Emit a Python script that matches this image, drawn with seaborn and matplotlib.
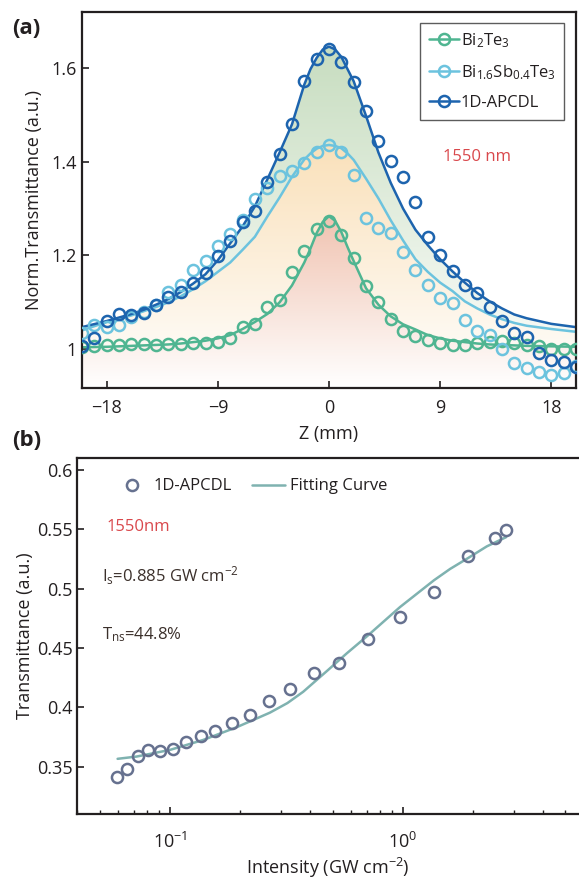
import matplotlib as mpl
mpl.use('Agg')
import matplotlib.pyplot as plt
import numpy as np
import pandas as pd
import seaborn as sns
from matplotlib.lines import Line2D
from matplotlib.ticker import FixedLocator, NullFormatter, FuncFormatter

# ---------------- data: panel (a), open-aperture Z-scan ----------------
z_pts = list(range(-20, 21))
bi2te3_pts = [1.005, 1.007, 1.009, 1.009, 1.011, 1.011, 1.009, 1.011, 1.012, 1.013,
              1.014, 1.016, 1.023, 1.048, 1.053, 1.090, 1.104, 1.164, 1.209, 1.257,
              1.273, 1.243, 1.195, 1.135, 1.101, 1.065, 1.039, 1.028, 1.020, 1.013,
              1.009, 1.009, 1.013, 1.016, 1.018, 1.013, 1.009, 1.007, 1.001, 1.000, 1.001]
bisbte_pts = [1.035, 1.052, 1.048, 1.052, 1.068, 1.079, 1.095, 1.121, 1.136, 1.169,
              1.189, 1.221, 1.245, 1.275, 1.321, 1.345, 1.369, 1.381, 1.397, 1.422,
              1.436, 1.420, 1.371, 1.281, 1.259, 1.248, 1.207, 1.170, 1.136, 1.109,
              1.099, 1.062, 1.038, 1.030, 1.001, 0.970, 0.959, 0.952, 0.945, 0.950, 0.964]
apcdl_pts = [1.007, 1.023, 1.060, 1.074, 1.072, 1.078, 1.094, 1.111, 1.122, 1.142,
             1.163, 1.198, 1.230, 1.271, 1.296, 1.358, 1.416, 1.480, 1.573, 1.620,
             1.640, 1.613, 1.570, 1.509, 1.444, 1.402, 1.368, 1.314, 1.240, 1.202,
             1.167, 1.137, 1.119, 1.089, 1.060, 1.034, 1.025, 0.991, 0.977, 0.972, 0.961]

z_fit = [-20, -18, -16, -15, -14, -13, -12, -11, -10, -9, -8, -7, -6, -5, -4, -3, -2,
         -1.5, -1, -0.5, 0, 0.5, 1, 1.5, 2, 3, 4, 5, 6, 7, 8, 9, 10, 11, 12, 13, 14,
         15, 16, 18, 20]
bi2te3_fit = [1.004, 1.005, 1.007, 1.008, 1.009, 1.010, 1.012, 1.015, 1.018, 1.023,
              1.030, 1.043, 1.058, 1.075, 1.100, 1.136, 1.185, 1.215, 1.248, 1.272,
              1.284, 1.274, 1.250, 1.218, 1.188, 1.130, 1.095, 1.070, 1.053, 1.042,
              1.030, 1.023, 1.018, 1.015, 1.012, 1.010, 1.009, 1.008, 1.007, 1.006, 1.005]
bisbte_fit = [1.040, 1.058, 1.072, 1.081, 1.090, 1.100, 1.113, 1.128, 1.145, 1.165,
              1.185, 1.212, 1.240, 1.283, 1.324, 1.368, 1.405, 1.418, 1.428, 1.434,
              1.436, 1.434, 1.429, 1.418, 1.404, 1.364, 1.322, 1.275, 1.232, 1.192,
              1.165, 1.142, 1.124, 1.102, 1.087, 1.074, 1.064, 1.056, 1.050, 1.043, 1.037]
apcdl_fit = [1.047, 1.060, 1.075, 1.084, 1.095, 1.107, 1.122, 1.140, 1.160, 1.190,
             1.226, 1.262, 1.305, 1.362, 1.420, 1.480, 1.565, 1.598, 1.622, 1.640,
             1.646, 1.640, 1.624, 1.598, 1.572, 1.498, 1.420, 1.355, 1.300, 1.255,
             1.222, 1.192, 1.166, 1.142, 1.120, 1.102, 1.087, 1.074, 1.066, 1.054, 1.047]

# ---------------- data: panel (b), saturable absorption ----------------
intensity = [0.059, 0.0652, 0.0726, 0.0807, 0.0906, 0.1027, 0.1172, 0.1355, 0.157,
             0.1853, 0.2208, 0.2673, 0.328, 0.416, 0.535, 0.712, 0.977, 1.365, 1.905,
             2.497, 2.786]
transmit = [0.3416, 0.3478, 0.3592, 0.364, 0.3632, 0.3649, 0.3705, 0.3758, 0.3803,
            0.387, 0.3934, 0.405, 0.415, 0.429, 0.4369, 0.4573, 0.476, 0.497, 0.5273,
            0.5428, 0.5495]
int_fit = [0.0596, 0.0719, 0.1, 0.139, 0.1935, 0.269, 0.32, 0.374, 0.478, 0.575, 0.712,
           0.975, 1.365, 1.6, 1.905, 2.3, 2.786]
trans_fit = [0.3565, 0.3584, 0.364, 0.3724, 0.3831, 0.3954, 0.4035, 0.413, 0.4313, 0.4453,
             0.4607, 0.4844, 0.507, 0.5165, 0.5255, 0.5355, 0.5433]

labels_a = ['Bi$_2$Te$_3$', 'Bi$_{1.6}$Sb$_{0.4}$Te$_3$', '1D-APCDL']
colors_a = ['#4fb591', '#6cc3de', '#1d64ae']
fills_a = [(0.94, 0.74, 0.66), (0.98, 0.87, 0.70), (0.77, 0.86, 0.74)]

sns.set_theme(style='ticks')
plt.rcParams['font.family'] = ['Open Sans', 'DejaVu Sans']
plt.rcParams['mathtext.default'] = 'regular'
plt.rcParams['text.color'] = '#231f20'
plt.rcParams['axes.labelcolor'] = '#231f20'
plt.rcParams['xtick.color'] = '#231f20'
plt.rcParams['ytick.color'] = '#231f20'

fig = plt.figure(figsize=(5.79, 8.85), dpi=100)
ax = fig.add_axes([82 / 579, 1 - 388 / 885, 494 / 579, 376 / 885])
bx = fig.add_axes([77.3 / 579, 1 - 814 / 885, 1 - 77.3 / 579, 356 / 885])

YBOT, YTOP = 0.917, 1.72


def gradient_fill(ax, z, lo, hi, rgb, amax):
    poly = ax.fill_between(z, lo, hi, facecolor='none', edgecolor='none')
    n = 256
    img = np.zeros((n, 1, 4))
    img[..., :3] = rgb
    img[:, 0, 3] = np.linspace(0, amax, n)
    im = ax.imshow(img, extent=[min(z), max(z), YBOT, max(hi)], origin='lower',
                   aspect='auto', zorder=0.5, interpolation='bilinear')
    im.set_clip_path(poly.get_paths()[0], transform=ax.transData)


zf = np.array(z_fit)
gradient_fill(ax, zf, bisbte_fit, apcdl_fit, fills_a[2], 0.95)
gradient_fill(ax, zf, bi2te3_fit, bisbte_fit, fills_a[1], 0.9)
gradient_fill(ax, zf, [YBOT] * len(z_fit), bi2te3_fit, fills_a[0], 0.9)

fits = [bi2te3_fit, bisbte_fit, apcdl_fit]
pts = [bi2te3_pts, bisbte_pts, apcdl_pts]
for i in range(3):
    df_fit = pd.DataFrame({'z': z_fit, 't': fits[i]})
    df_pts = pd.DataFrame({'z': z_pts, 't': pts[i]})
    sns.lineplot(data=df_fit, x='z', y='t', ax=ax, color=colors_a[i], lw=1.8,
                 estimator=None, sort=False, zorder=2)
    sns.lineplot(data=df_pts, x='z', y='t', ax=ax, color=colors_a[i], linestyle='none',
                 marker='o', markersize=8, markerfacecolor='none',
                 markeredgecolor=colors_a[i], markeredgewidth=1.8,
                 estimator=None, sort=False, zorder=3)

ax.set_xlim(-20, 20)
ax.set_ylim(YBOT, YTOP)
ax.xaxis.set_major_locator(FixedLocator([-18, -9, 0, 9, 18]))
ax.yaxis.set_major_locator(FixedLocator([1.0, 1.2, 1.4, 1.6]))
ax.yaxis.set_major_formatter(FuncFormatter(lambda v, p: '{:g}'.format(round(v, 2))))
ax.set_xlabel('Z (mm)', fontsize=13, labelpad=6)
ax.set_ylabel('Norm.Transmittance (a.u.)', fontsize=13, labelpad=6)
ax.tick_params(direction='in', length=5, width=1.2, labelsize=13, top=False, right=False)
ax.tick_params(axis='x', pad=8)
for s in ax.spines.values():
    s.set_linewidth(1.6)
    s.set_color('#231f20')

handles = [Line2D([], [], color=c, lw=1.8, marker='o', markersize=8,
                  markerfacecolor='none', markeredgewidth=1.8) for c in colors_a]
lgd = ax.legend(handles, labels_a, loc='upper right', bbox_to_anchor=(0.976, 0.971),
                fontsize=12, frameon=True, fancybox=False, edgecolor='#333333',
                handlelength=1.8, handletextpad=0.15, borderpad=0.5, labelspacing=0.8,
                borderaxespad=0)
lgd.get_frame().set_linewidth(1.0)
ax.text(0.73, 0.615, '1550 nm', transform=ax.transAxes, color='#d9484c', fontsize=12,
        ha='left', va='center')

# ---------------- panel (b) ----------------
df_b = pd.DataFrame({'I': intensity, 'T': transmit})
df_bf = pd.DataFrame({'I': int_fit, 'T': trans_fit})
sns.lineplot(data=df_bf, x='I', y='T', ax=bx, color='#7fb2b0', lw=1.8,
             estimator=None, sort=False, zorder=2)
sns.lineplot(data=df_b, x='I', y='T', ax=bx, linestyle='none', marker='o', markersize=8,
             markerfacecolor='none', markeredgecolor='#66718f', markeredgewidth=1.8,
             estimator=None, sort=False, zorder=3)
bx.set_xscale('log')
bx.set_xlim(0.04, 5.73)
bx.set_ylim(0.31, 0.61)
bx.yaxis.set_major_locator(FixedLocator([0.35, 0.4, 0.45, 0.5, 0.55, 0.6]))
bx.yaxis.set_major_formatter(FuncFormatter(lambda v, p: '{:g}'.format(round(v, 2))))
bx.xaxis.set_minor_formatter(NullFormatter())
bx.tick_params(which='major', direction='in', length=5, width=1.2, labelsize=13,
               top=False, right=False)
bx.tick_params(axis='x', which='major', pad=13)
bx.tick_params(which='minor', direction='in', length=3, width=1.0, top=False, right=False)
bx.spines['right'].set_visible(False)
for s in ['left', 'bottom', 'top']:
    bx.spines[s].set_linewidth(1.6)
    bx.spines[s].set_color('#231f20')
bx.set_xlabel('Intensity (GW cm$^{-2}$)', fontsize=13, labelpad=3)
bx.set_ylabel('Transmittance (a.u.)', fontsize=13, labelpad=2)

hb = [Line2D([], [], linestyle='none', marker='o', markersize=8, markerfacecolor='none',
             markeredgecolor='#66718f', markeredgewidth=1.8),
      Line2D([], [], color='#7fb2b0', lw=1.8)]
bx.legend(hb, ['1D-APCDL', 'Fitting Curve'], loc='upper left', bbox_to_anchor=(0.045, 0.985),
          ncol=2, frameon=False, fontsize=12, handlelength=2.0, handletextpad=0.3,
          columnspacing=1.2)
bx.text(0.058, 0.805, '1550nm', transform=bx.transAxes, color='#d9484c', fontsize=12,
        ha='left', va='center')
bx.text(0.05, 0.67, 'I$_s$=0.885 GW cm$^{-2}$', transform=bx.transAxes,
        color='#3b302b', fontsize=12, ha='left', va='center')
bx.text(0.05, 0.505, 'T$_{ns}$=44.8%', transform=bx.transAxes,
        color='#3b302b', fontsize=12, ha='left', va='center')

fig.text(12 / 579, 1 - 28 / 885, '(a)', fontsize=16, fontweight='bold', va='center')
fig.text(12 / 579, 1 - 440 / 885, '(b)', fontsize=16, fontweight='bold', va='center')

fig.savefig('out.png', dpi=100)
